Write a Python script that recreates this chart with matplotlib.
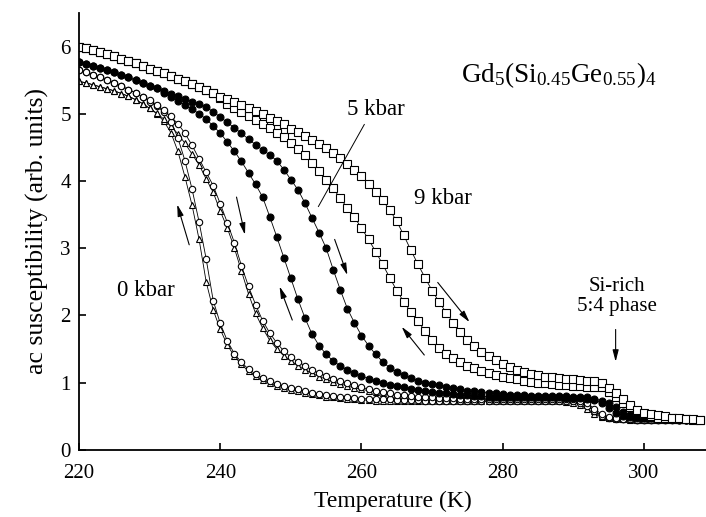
import numpy as np
import matplotlib
matplotlib.use("Agg")
import matplotlib.pyplot as plt

plt.rcParams["font.family"] = ["Liberation Serif", "DejaVu Serif"]
plt.rcParams["mathtext.fontset"] = "custom"
plt.rcParams["mathtext.rm"] = "Liberation Serif"
plt.rcParams["mathtext.it"] = "Liberation Serif:italic"

# temperature grid of the measurement (K)
temp = np.arange(220, 309)

# 9 kbar, open squares
sq_cool = [6.00, 5.98, 5.95, 5.92, 5.89, 5.86, 5.82, 5.79, 5.75, 5.71,
           5.67, 5.64, 5.60, 5.56, 5.52, 5.48, 5.44, 5.40, 5.36, 5.31,
           5.24, 5.15, 5.08, 5.02, 4.96, 4.91, 4.85, 4.79, 4.72, 4.65,
           4.57, 4.48, 4.38, 4.27, 4.15, 4.02, 3.89, 3.74, 3.60, 3.46,
           3.30, 3.13, 2.95, 2.76, 2.56, 2.37, 2.20, 2.05, 1.91, 1.77,
           1.63, 1.51, 1.43, 1.36, 1.30, 1.25, 1.21, 1.17, 1.14, 1.11,
           1.09, 1.07, 1.05, 1.03, 1.01, 1.00, 0.99, 0.98, 0.97, 0.96,
           0.95, 0.95, 0.94, 0.94, 0.93, 0.86, 0.78, 0.70, 0.63, 0.57,
           0.53, 0.50, 0.48, 0.47, 0.47, 0.46, 0.46, 0.45, 0.45]
sq_heat = [6.00, 5.98, 5.95, 5.92, 5.89, 5.86, 5.82, 5.79, 5.75, 5.71,
           5.67, 5.64, 5.60, 5.56, 5.52, 5.48, 5.44, 5.40, 5.36, 5.31,
           5.25, 5.22, 5.18, 5.13, 5.09, 5.04, 4.99, 4.94, 4.89, 4.84,
           4.78, 4.73, 4.67, 4.61, 4.55, 4.49, 4.41, 4.34, 4.25, 4.16,
           4.07, 3.96, 3.84, 3.71, 3.57, 3.40, 3.19, 2.97, 2.76, 2.56,
           2.37, 2.20, 2.04, 1.89, 1.76, 1.64, 1.54, 1.46, 1.39, 1.33,
           1.28, 1.23, 1.19, 1.16, 1.13, 1.11, 1.09, 1.08, 1.07, 1.06,
           1.05, 1.04, 1.03, 1.02, 1.00, 0.92, 0.84, 0.76, 0.67, 0.59,
           0.55, 0.53, 0.52, 0.50, 0.48, 0.47, 0.46, 0.46, 0.45]

# 5 kbar, filled circles
fc_cool = [5.77, 5.74, 5.71, 5.68, 5.65, 5.62, 5.58, 5.54, 5.50, 5.46,
           5.42, 5.38, 5.31, 5.25, 5.19, 5.13, 5.07, 5.00, 4.92, 4.82,
           4.71, 4.58, 4.44, 4.29, 4.12, 3.95, 3.76, 3.47, 3.17, 2.86,
           2.55, 2.24, 1.96, 1.72, 1.55, 1.42, 1.32, 1.25, 1.19, 1.14,
           1.10, 1.06, 1.02, 0.99, 0.97, 0.95, 0.93, 0.91, 0.89, 0.87,
           0.86, 0.85, 0.84, 0.83, 0.82, 0.81, 0.80, 0.80, 0.79, 0.79,
           0.79, 0.78, 0.78, 0.78, 0.78, 0.78, 0.78, 0.78, 0.78, 0.77,
           0.77, 0.77, 0.76, 0.74, 0.70, 0.62, 0.55, 0.51, 0.49, 0.48,
           0.47, 0.47, 0.46, 0.46, 0.46, 0.45, 0.45, 0.45, 0.45]
fc_heat = [5.77, 5.74, 5.71, 5.68, 5.65, 5.62, 5.58, 5.54, 5.50, 5.46,
           5.42, 5.38, 5.34, 5.30, 5.26, 5.22, 5.18, 5.14, 5.10, 5.03,
           4.95, 4.87, 4.79, 4.71, 4.62, 4.54, 4.46, 4.39, 4.30, 4.17,
           4.02, 3.87, 3.67, 3.45, 3.23, 3.00, 2.68, 2.38, 2.10, 1.89,
           1.70, 1.55, 1.42, 1.31, 1.22, 1.16, 1.11, 1.07, 1.03, 1.00,
           0.98, 0.96, 0.94, 0.92, 0.90, 0.88, 0.87, 0.86, 0.85, 0.84,
           0.83, 0.82, 0.81, 0.81, 0.80, 0.80, 0.80, 0.80, 0.80, 0.80,
           0.79, 0.79, 0.78, 0.76, 0.73, 0.69, 0.63, 0.56, 0.52, 0.50,
           0.48, 0.47, 0.47, 0.46, 0.46, 0.46, 0.45, 0.45, 0.45]

# 0 kbar, open circles
oc_cool = [5.65, 5.62, 5.58, 5.54, 5.50, 5.46, 5.41, 5.36, 5.31, 5.25,
           5.18, 5.11, 5.03, 4.88, 4.64, 4.30, 3.88, 3.39, 2.84, 2.22,
           1.88, 1.62, 1.43, 1.30, 1.20, 1.13, 1.07, 1.02, 0.98, 0.95,
           0.92, 0.90, 0.87, 0.85, 0.83, 0.81, 0.80, 0.79, 0.78, 0.77,
           0.76, 0.76, 0.75, 0.75, 0.75, 0.74, 0.74, 0.74, 0.74, 0.73,
           0.73, 0.73, 0.73, 0.73, 0.73, 0.73, 0.73, 0.73, 0.73, 0.73,
           0.73, 0.73, 0.73, 0.73, 0.73, 0.73, 0.73, 0.73, 0.73, 0.73,
           0.72, 0.70, 0.65, 0.57, 0.50, 0.47, 0.46, 0.46, 0.46, 0.45,
           0.45, 0.45, 0.45, 0.45, 0.44, 0.44, 0.44, 0.44, 0.44]
oc_heat = [5.65, 5.62, 5.58, 5.54, 5.50, 5.46, 5.41, 5.36, 5.31, 5.25,
           5.20, 5.13, 5.05, 4.96, 4.85, 4.71, 4.53, 4.33, 4.13, 3.93,
           3.66, 3.38, 3.08, 2.74, 2.43, 2.16, 1.92, 1.74, 1.59, 1.47,
           1.38, 1.31, 1.25, 1.19, 1.14, 1.10, 1.06, 1.02, 0.99, 0.96,
           0.93, 0.90, 0.88, 0.86, 0.84, 0.82, 0.81, 0.80, 0.79, 0.78,
           0.78, 0.77, 0.77, 0.77, 0.76, 0.76, 0.76, 0.76, 0.76, 0.76,
           0.76, 0.76, 0.76, 0.76, 0.76, 0.76, 0.76, 0.76, 0.76, 0.76,
           0.75, 0.73, 0.69, 0.61, 0.53, 0.49, 0.47, 0.46, 0.46, 0.45,
           0.45, 0.45, 0.45, 0.45, 0.44, 0.44, 0.44, 0.44, 0.44]

# 0 kbar, open triangles
tr_cool = [5.48, 5.46, 5.43, 5.40, 5.37, 5.34, 5.30, 5.26, 5.21, 5.15,
           5.08, 5.00, 4.89, 4.72, 4.44, 4.06, 3.64, 3.13, 2.50, 2.08,
           1.79, 1.56, 1.39, 1.27, 1.17, 1.10, 1.04, 0.99, 0.95, 0.92,
           0.89, 0.87, 0.85, 0.83, 0.81, 0.79, 0.78, 0.77, 0.76, 0.75,
           0.74, 0.74, 0.73, 0.73, 0.73, 0.72, 0.72, 0.72, 0.72, 0.72,
           0.72, 0.72, 0.72, 0.72, 0.72, 0.72, 0.72, 0.72, 0.72, 0.72,
           0.72, 0.72, 0.72, 0.72, 0.72, 0.72, 0.72, 0.72, 0.72, 0.71,
           0.70, 0.67, 0.61, 0.53, 0.49, 0.47, 0.46, 0.46, 0.45, 0.45,
           0.45, 0.45, 0.45, 0.44, 0.44, 0.44, 0.44, 0.44, 0.44]
tr_heat = [5.48, 5.46, 5.43, 5.40, 5.37, 5.34, 5.30, 5.26, 5.21, 5.15,
           5.08, 5.01, 4.92, 4.82, 4.70, 4.56, 4.40, 4.24, 4.03, 3.83,
           3.55, 3.30, 3.00, 2.66, 2.32, 2.03, 1.81, 1.63, 1.50, 1.40,
           1.32, 1.25, 1.19, 1.14, 1.09, 1.05, 1.01, 0.98, 0.95, 0.92,
           0.90, 0.88, 0.86, 0.84, 0.82, 0.81, 0.80, 0.79, 0.78, 0.77,
           0.77, 0.76, 0.76, 0.76, 0.75, 0.75, 0.75, 0.75, 0.75, 0.75,
           0.75, 0.75, 0.75, 0.75, 0.75, 0.75, 0.75, 0.75, 0.75, 0.75,
           0.74, 0.72, 0.67, 0.58, 0.51, 0.48, 0.47, 0.46, 0.46, 0.45,
           0.45, 0.45, 0.45, 0.45, 0.44, 0.44, 0.44, 0.44, 0.44]

xticks = [220, 240, 260, 280, 300]
yticks = [0, 1, 2, 3, 4, 5, 6]


def draw(ax, y, marker, ms, filled=False):
    ax.plot(temp, y, color="k", lw=0.6, marker=marker, ms=ms,
            mfc="k" if filled else "white", mec="k", mew=0.8)


def arrow(ax, tail, head):
    ax.annotate("", xy=head, xytext=tail,
                arrowprops=dict(arrowstyle="-|>,head_length=0.7,head_width=0.18",
                                lw=0.8, color="k", shrinkA=0, shrinkB=0))


fig = plt.figure(figsize=(7.06, 5.17), dpi=100)
ax = fig.add_axes([0.112, 0.130, 0.888, 0.845])

draw(ax, tr_cool, "^", 4.8)
draw(ax, tr_heat, "^", 4.8)
draw(ax, oc_cool, "o", 4.6)
draw(ax, oc_heat, "o", 4.6)
draw(ax, fc_cool, "o", 5.0, filled=True)
draw(ax, fc_heat, "o", 5.0, filled=True)
draw(ax, sq_cool, "s", 5.3)
draw(ax, sq_heat, "s", 5.3)

ax.set_xlim(220, 308.8)
ax.set_ylim(0, 6.5)
ax.set_xticks(xticks)
ax.set_yticks(yticks)
for s in ["top", "right"]:
    ax.spines[s].set_visible(False)
for s in ["left", "bottom"]:
    ax.spines[s].set_linewidth(1.3)
ax.tick_params(direction="in", length=5, width=1.2, labelsize=15, pad=6)
ax.tick_params(axis="x", pad=10)
ax.set_xlabel("Temperature (K)", fontsize=17, labelpad=6)
ax.set_ylabel("ac susceptibility (arb. units)", fontsize=18.5, labelpad=8)

ax.text(288, 5.58, r"$\mathrm{Gd_5(Si_{0.45}Ge_{0.55})_4}$", fontsize=19.5,
        ha="center", va="center")
ax.text(262, 5.06, "5 kbar", fontsize=16.5, ha="center", va="center")
ax.text(271.6, 3.74, "9 kbar", fontsize=16.5, ha="center", va="center")
ax.text(229.4, 2.37, "0 kbar", fontsize=16.5, ha="center", va="center")
ax.text(296.2, 2.28, "Si-rich\n5:4 phase", fontsize=15, ha="center",
        va="center", linespacing=1.05)

# leader line for the 5 kbar label
ax.plot([260.4, 253.9], [4.84, 3.62], color="k", lw=0.7)

# hysteresis direction arrows
arrow(ax, (235.6, 3.05), (233.9, 3.65))
arrow(ax, (242.3, 3.76), (243.5, 3.20))
arrow(ax, (250.2, 1.93), (248.4, 2.43))
arrow(ax, (256.2, 3.13), (258.0, 2.60))
arrow(ax, (268.9, 1.41), (265.7, 1.83))
arrow(ax, (270.8, 2.49), (275.3, 1.90))
arrow(ax, (296.0, 1.79), (296.0, 1.31))

fig.savefig("out.png", dpi=100)
